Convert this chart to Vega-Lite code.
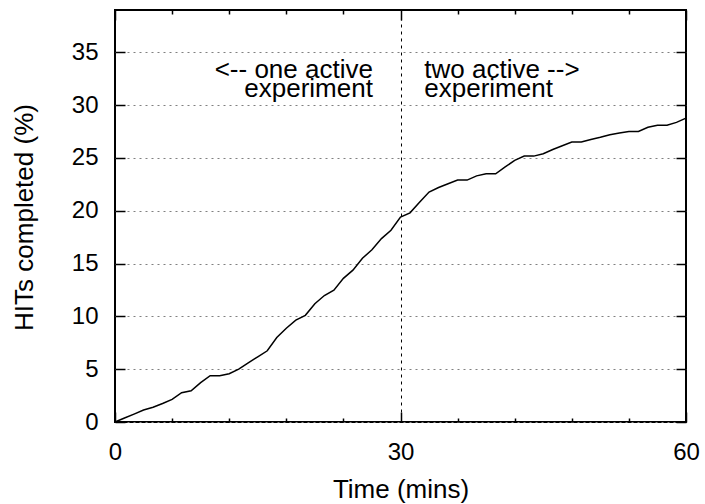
{
  "$schema": "https://vega.github.io/schema/vega-lite/v6.json",
  "width": 571,
  "height": 412,
  "autosize": {"type": "none"},
  "padding": {"left": 115, "top": 10, "right": 19, "bottom": 82},
  "background": "white",
  "config": {
    "view": {"stroke": "black", "strokeWidth": 2},
    "font": "Liberation Sans",
    "axis": {
      "domain": false,
      "labelFont": "Liberation Sans",
      "titleFont": "Liberation Sans",
      "labelFontSize": 24,
      "titleFontSize": 26,
      "labelColor": "black",
      "titleColor": "black",
      "titleFontWeight": "normal",
      "tickColor": "black",
      "tickWidth": 1.5,
      "labelFlush": false,
      "labelOverlap": false
    }
  },
  "layer": [
    {
      "data": {
        "values": [
          {"time": 0, "pct": 0},
          {"time": 1, "pct": 0.38},
          {"time": 2, "pct": 0.75},
          {"time": 3, "pct": 1.13},
          {"time": 4, "pct": 1.39},
          {"time": 5, "pct": 1.75},
          {"time": 6, "pct": 2.14},
          {"time": 7, "pct": 2.77},
          {"time": 8, "pct": 2.96},
          {"time": 9, "pct": 3.72},
          {"time": 10, "pct": 4.38},
          {"time": 11, "pct": 4.38},
          {"time": 12, "pct": 4.57},
          {"time": 13, "pct": 5.0},
          {"time": 14, "pct": 5.6},
          {"time": 15, "pct": 6.17},
          {"time": 16, "pct": 6.74},
          {"time": 17, "pct": 8.0},
          {"time": 18, "pct": 8.88},
          {"time": 19, "pct": 9.64},
          {"time": 20, "pct": 10.1},
          {"time": 21, "pct": 11.2},
          {"time": 22, "pct": 11.97},
          {"time": 23, "pct": 12.48},
          {"time": 24, "pct": 13.6},
          {"time": 25, "pct": 14.37},
          {"time": 26, "pct": 15.5},
          {"time": 27, "pct": 16.3},
          {"time": 28, "pct": 17.36},
          {"time": 29, "pct": 18.15},
          {"time": 30, "pct": 19.4},
          {"time": 31, "pct": 19.8},
          {"time": 32, "pct": 20.8},
          {"time": 33, "pct": 21.77},
          {"time": 34, "pct": 22.2},
          {"time": 35, "pct": 22.55},
          {"time": 36, "pct": 22.9},
          {"time": 37, "pct": 22.9},
          {"time": 38, "pct": 23.3},
          {"time": 39, "pct": 23.5},
          {"time": 40, "pct": 23.5},
          {"time": 41, "pct": 24.15},
          {"time": 42, "pct": 24.76},
          {"time": 43, "pct": 25.17},
          {"time": 44, "pct": 25.17},
          {"time": 45, "pct": 25.4},
          {"time": 46, "pct": 25.8},
          {"time": 47, "pct": 26.15},
          {"time": 48, "pct": 26.5},
          {"time": 49, "pct": 26.5},
          {"time": 50, "pct": 26.75},
          {"time": 51, "pct": 26.95},
          {"time": 52, "pct": 27.2},
          {"time": 53, "pct": 27.35},
          {"time": 54, "pct": 27.5},
          {"time": 55, "pct": 27.5},
          {"time": 56, "pct": 27.9},
          {"time": 57, "pct": 28.1},
          {"time": 58, "pct": 28.1},
          {"time": 59, "pct": 28.36},
          {"time": 60, "pct": 28.76}
        ]
      },
      "mark": {"type": "line", "color": "black", "strokeWidth": 1.5},
      "encoding": {
        "x": {
          "field": "time",
          "type": "quantitative",
          "scale": {"domain": [0, 60], "nice": false, "zero": false},
          "axis": {
            "orient": "bottom",
            "values": [0, 6, 12, 18, 24, 30, 36, 42, 48, 54, 60],
            "labelExpr": "datum.value % 30 === 0 ? datum.label : ''",
            "tickSize": {"condition": {"test": "datum.value % 30 === 0", "value": -10}, "value": -4},
            "labelPadding": 28,
            "grid": true,
            "gridColor": "black",
            "gridDash": [3, 4],
            "gridWidth": 1,
            "gridOpacity": {"condition": {"test": "datum.value === 30", "value": 1}, "value": 0},
            "title": "Time (mins)",
            "titleBaseline": "alphabetic",
            "titleY": 75
          }
        },
        "y": {
          "field": "pct",
          "type": "quantitative",
          "scale": {"domain": [0, 39], "nice": false},
          "axis": {
            "orient": "left",
            "values": [0, 5, 10, 15, 20, 25, 30, 35],
            "tickSize": -10,
            "labelPadding": 27,
            "grid": true,
            "gridColor": "#808080",
            "gridDash": [2, 4],
            "gridWidth": 1,
            "title": "HITs completed (%)",
            "titleAngle": -90,
            "titleX": -83,
            "titleY": 207,
            "titleBaseline": "alphabetic",
            "titleAlign": "center"
          }
        }
      }
    },
    {
      "data": {"values": [{"time": 27.1, "pct": 32.56, "label": ["<-- one active", "experiment"]}]},
      "mark": {"type": "text", "align": "right", "baseline": "alphabetic", "fontSize": 26, "lineHeight": 19, "font": "Liberation Sans", "color": "black"},
      "encoding": {
        "x": {
          "field": "time",
          "type": "quantitative",
          "scale": {"domain": [0, 60], "nice": false, "zero": false},
          "axis": {
            "orient": "top",
            "values": [0, 6, 12, 18, 24, 30, 36, 42, 48, 54, 60],
            "labels": false,
            "tickSize": {"condition": {"test": "datum.value % 30 === 0", "value": -10}, "value": -4},
            "grid": false,
            "title": null
          }
        },
        "y": {
          "field": "pct",
          "type": "quantitative",
          "scale": {"domain": [0, 39], "nice": false},
          "axis": {
            "orient": "right",
            "values": [0, 5, 10, 15, 20, 25, 30, 35],
            "labels": false,
            "tickSize": -10,
            "grid": false,
            "title": null
          }
        },
        "text": {"field": "label", "type": "nominal"}
      }
    },
    {
      "data": {"values": [{"time": 32.5, "pct": 32.56, "label": ["two active -->", "experiment"]}]},
      "mark": {"type": "text", "align": "left", "baseline": "alphabetic", "fontSize": 26, "lineHeight": 19, "font": "Liberation Sans", "color": "black"},
      "encoding": {
        "x": {
          "field": "time",
          "type": "quantitative",
          "scale": {"domain": [0, 60], "nice": false, "zero": false},
          "axis": null
        },
        "y": {
          "field": "pct",
          "type": "quantitative",
          "scale": {"domain": [0, 39], "nice": false},
          "axis": null
        },
        "text": {"field": "label", "type": "nominal"}
      }
    }
  ],
  "resolve": {"axis": {"x": "independent", "y": "independent"}}
}
